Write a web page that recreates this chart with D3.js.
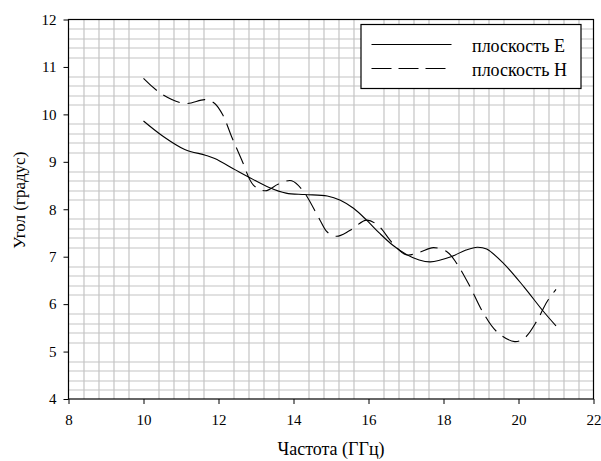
<!DOCTYPE html>
<html>
<head>
<meta charset="utf-8">
<script src="https://cdn.jsdelivr.net/npm/d3@7"></script>
<style>
  body { margin: 0; background: #fff; }
</style>
</head>
<body>
<div class="vis"></div>
<script>
(function() {
  'use strict';

  // plane E (solid)
  var eFreq = [10.0, 10.5, 11.1, 11.65, 11.9, 12.45, 12.8, 13.35, 13.8, 14.3, 14.9, 15.25, 15.6, 15.95, 16.3, 16.65, 17.0, 17.35, 17.65, 18.2, 18.6, 18.9, 19.15, 19.6, 20.15, 20.65, 21.0];
  var eAngle = [9.86, 9.55, 9.26, 9.14, 9.07, 8.83, 8.68, 8.46, 8.34, 8.31, 8.28, 8.19, 8.02, 7.77, 7.49, 7.24, 7.05, 6.93, 6.89, 7.0, 7.14, 7.2, 7.16, 6.86, 6.36, 5.86, 5.54];

  // plane H (dashed)
  var hFreq = [10.0, 10.5, 11.1, 11.65, 11.9, 12.12, 12.35, 12.62, 12.93, 13.25, 13.6, 13.95, 14.27, 14.7, 14.9, 15.15, 15.5, 15.95, 16.25, 16.65, 17.0, 17.35, 17.73, 18.1, 18.35, 18.7, 19.05, 19.42, 19.9, 20.18, 20.5, 20.76, 21.0];
  var hAngle = [10.76, 10.42, 10.23, 10.31, 10.23, 9.98, 9.53, 9.04, 8.51, 8.39, 8.53, 8.6, 8.37, 7.78, 7.52, 7.43, 7.55, 7.77, 7.66, 7.28, 7.04, 7.09, 7.19, 7.1, 6.86, 6.38, 5.83, 5.42, 5.21, 5.3, 5.66, 6.05, 6.31];

  var xTicks = [8, 10, 12, 14, 16, 18, 20, 22];
  var yTicks = [4, 5, 6, 7, 8, 9, 10, 11, 12];
  var legendLabels = ['плоскость E', 'плоскость H'];

  var FONT = 'Liberation Serif';

  var elWidth = 601, elHeight = 461,
    margin = {top: 19.5, right: 7.5, bottom: 62, left: 68.5},
    width = elWidth - margin.left - margin.right,
    height = elHeight - margin.top - margin.bottom;

  var svg = d3.select('.vis').append('svg')
      .attr('width', elWidth)
      .attr('height', elHeight)
    .append('g')
      .attr('transform', 'translate(' + margin.left + ',' + margin.top + ')');

  var x = d3.scaleLinear().domain([8, 22]).range([0, width]);
  var y = d3.scaleLinear().domain([4, 12]).range([height, 0]);

  // minor grid (majors left blank, as in the original)
  var xMinor = d3.range(8, 22.001, 0.4).filter(function(v) {
    return Math.abs(v / 2 - Math.round(v / 2)) > 0.01;
  });
  var yMinor = d3.range(4, 12.001, 0.2).filter(function(v) {
    return Math.abs(v - Math.round(v)) > 0.01;
  });

  svg.selectAll('.vgrid').data(xMinor).enter().append('line')
    .attr('x1', function(d) { return Math.round(x(d)) + 0.5; })
    .attr('x2', function(d) { return Math.round(x(d)) + 0.5; })
    .attr('y1', 0).attr('y2', height)
    .attr('stroke', '#c4c4c4').attr('stroke-width', 1.2);

  svg.selectAll('.hgrid').data(yMinor).enter().append('line')
    .attr('y1', function(d) { return Math.round(y(d)) + 0.5; })
    .attr('y2', function(d) { return Math.round(y(d)) + 0.5; })
    .attr('x1', 0).attr('x2', width)
    .attr('stroke', '#c4c4c4').attr('stroke-width', 1.2);

  // axes
  var xAxis = svg.append('g')
    .attr('transform', 'translate(0,' + height + ')')
    .call(d3.axisBottom(x).tickValues(xTicks).tickSize(5).tickPadding(10).tickFormat(d3.format('d')));
  var yAxis = svg.append('g')
    .call(d3.axisLeft(y).tickValues(yTicks).tickSize(5).tickPadding(7).tickFormat(d3.format('d')));
  [xAxis, yAxis].forEach(function(a) {
    a.attr('font-family', FONT).attr('font-size', 15);
    a.select('.domain').remove();
    a.selectAll('text').attr('fill', '#000');
    a.selectAll('line').attr('stroke', '#000');
  });

  svg.append('rect')
    .attr('width', width).attr('height', height)
    .attr('fill', 'none').attr('stroke', '#000').attr('stroke-width', 1.2);

  var line = d3.line()
    .x(function(d) { return x(d[0]); })
    .y(function(d) { return y(d[1]); })
    .curve(d3.curveCatmullRom.alpha(0.5));

  svg.append('path')
    .datum(d3.zip(eFreq, eAngle))
    .attr('d', line)
    .attr('fill', 'none').attr('stroke', '#000').attr('stroke-width', 1.1);

  svg.append('path')
    .datum(d3.zip(hFreq, hAngle))
    .attr('d', line)
    .attr('fill', 'none').attr('stroke', '#000').attr('stroke-width', 1.1)
    .attr('stroke-dasharray', '18,8');

  // legend
  var lg = svg.append('g').attr('transform', 'translate(' + (361 - margin.left) + ',' + (24.5 - margin.top) + ')');
  lg.append('rect').attr('width', 220).attr('height', 64)
    .attr('fill', '#fff').attr('stroke', '#000').attr('stroke-width', 1.2);
  legendLabels.forEach(function(lbl, i) {
    var ly = 20 + i * 24;
    lg.append('line').attr('x1', 10.5).attr('x2', 90.5).attr('y1', ly).attr('y2', ly)
      .attr('stroke', '#000').attr('stroke-width', 1.1)
      .attr('stroke-dasharray', i === 1 ? '20,7' : null);
    lg.append('text').attr('x', 111).attr('y', ly + 7)
      .attr('font-family', FONT).attr('font-size', 18).text(lbl);
  });

  // axis titles
  svg.append('text')
    .attr('x', width / 2).attr('y', height + 56)
    .attr('text-anchor', 'middle')
    .attr('font-family', FONT).attr('font-size', 18)
    .text('Частота (ГГц)');
  svg.append('text')
    .attr('transform', 'translate(' + (-44) + ',' + (height / 2 - 9) + ') rotate(-90)')
    .attr('text-anchor', 'middle')
    .attr('font-family', FONT).attr('font-size', 17)
    .text('Угол (градус)');
}());
</script>
</body>
</html>
